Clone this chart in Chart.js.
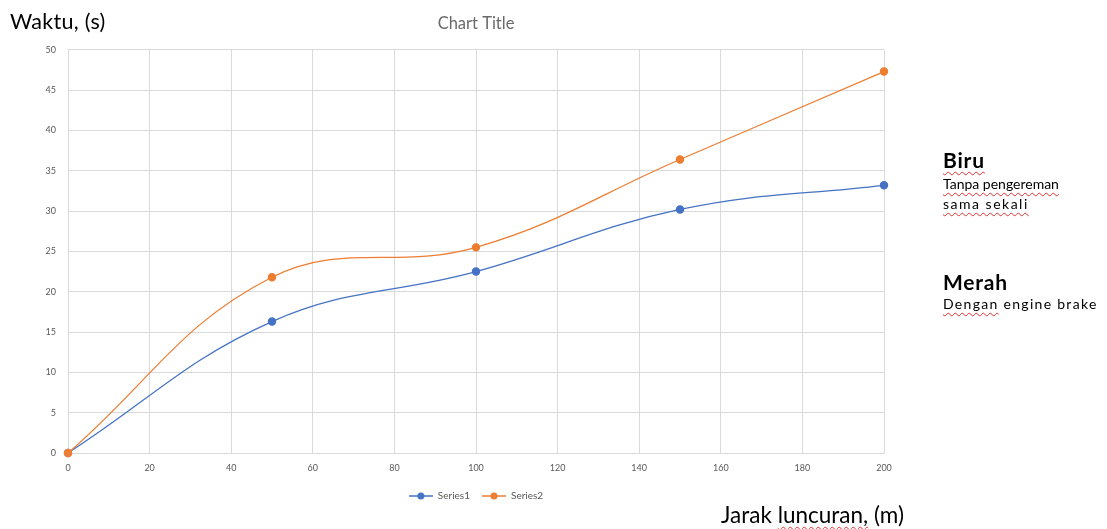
<!DOCTYPE html>
<html>
<head>
<meta charset="utf-8">
<script src="https://cdn.jsdelivr.net/npm/chart.js@4/dist/chart.umd.min.js"></script>
<style>
  body { margin: 0; background: #fff; font-family: Lato, "Open Sans", sans-serif; }
  #wrap { position: absolute; left: 0; top: 0; width: 1107px; height: 529px; }
  .txt { position: absolute; white-space: nowrap; color: #000; line-height: 1; }
  .salah { text-decoration: underline wavy #e03030; text-decoration-thickness: 1px; text-underline-offset: 3px; }
</style>
</head>
<body>
<div id="wrap"><canvas id="grafik"></canvas></div>

<div class="txt" style="left:10px; top:11px; font-size:21.5px; letter-spacing:0.3px;">Waktu, (s)</div>
<div class="txt" style="left:721px; top:504px; font-size:22.5px;">Jarak <span class="salah">luncuran,</span> (m)</div>

<div class="txt" style="left:943px; top:149px; font-size:21px; font-weight:bold; letter-spacing:0.8px;"><span class="salah">Biru</span></div>
<div class="txt" style="left:943px; top:177px; font-size:14px;"><span class="salah">Tanpa pengereman</span></div>
<div class="txt" style="left:943px; top:197px; font-size:14px; letter-spacing:1.5px;"><span class="salah">sama sekali</span></div>
<div class="txt" style="left:943px; top:271px; font-size:21px; font-weight:bold; letter-spacing:0.8px;">Merah</div>
<div class="txt" style="left:943px; top:297px; font-size:14px; letter-spacing:1.3px;"><span class="salah">Dengan</span> engine brake</div>

<script>
// data
const jarak = [0, 50, 100, 150, 200];
const series1 = [0, 16.3, 22.5, 30.2, 33.2];   // biru
const series2 = [0, 21.8, 25.5, 36.4, 47.3];   // oranye
const namaSeri = ['Series1', 'Series2'];
const warna = ['#4472C4', '#ED7D31'];

const abu = '#595959';
const garis = '#d9d9d9';

// simbol legenda ala excel: garis dengan titik di tengah
function simbolLegenda(c) {
  const cv = document.createElement('canvas');
  cv.width = 24; cv.height = 10;
  const g = cv.getContext('2d');
  g.strokeStyle = c; g.lineWidth = 1.5;
  g.beginPath(); g.moveTo(0, 5); g.lineTo(24, 5); g.stroke();
  g.fillStyle = c;
  g.beginPath(); g.arc(12, 5, 3.5, 0, Math.PI * 2); g.fill();
  return cv;
}

function buatSeri(nilai) {
  return jarak.map((x, i) => ({ x: x, y: nilai[i] }));
}

const dataGrafik = {
  datasets: [
    {
      label: namaSeri[0],
      data: buatSeri(series1),
      borderColor: warna[0],
      backgroundColor: warna[0],
      borderWidth: 1.25,
      pointRadius: 3.6,
      pointHoverRadius: 3.6,
      tension: 0.4,
      clip: false,
      order: 1
    },
    {
      label: namaSeri[1],
      data: buatSeri(series2),
      borderColor: warna[1],
      backgroundColor: warna[1],
      borderWidth: 1.25,
      pointRadius: 3.6,
      pointHoverRadius: 3.6,
      tension: 0.4,
      clip: false,
      order: 0 // oranye di atas biru
    }
  ]
};

const fonteTick = { family: 'Lato, "Open Sans", sans-serif', size: 9 };

const opsi = {
  responsive: true,
  maintainAspectRatio: false,
  animation: false,
  layout: { padding: { left: 0, right: 223, top: 0, bottom: 18 } },
  scales: {
    x: {
      type: 'linear',
      min: 0,
      max: 200,
      ticks: { stepSize: 20, color: abu, font: fonteTick, padding: 10 },
      grid: { color: garis, drawTicks: false },
      border: { color: garis },
      afterFit: function (s) { s.height = 26; }
    },
    y: {
      min: 0,
      max: 50,
      ticks: { stepSize: 5, color: abu, font: fonteTick, padding: 12 },
      grid: { color: garis, drawTicks: false },
      border: { color: garis },
      afterFit: function (s) { s.width = 68; }
    }
  },
  plugins: {
    title: {
      display: true,
      text: 'Chart Title',
      color: '#6a6a6a',
      fullSize: false,
      font: { family: 'Lato, "Open Sans", sans-serif', size: 16.5, weight: 'normal' },
      padding: { top: 14, bottom: 16 }
    },
    legend: {
      position: 'bottom',
      fullSize: false,
      labels: {
        color: abu,
        font: { family: 'Lato, "Open Sans", sans-serif', size: 10 },
        usePointStyle: true,
        pointStyleWidth: 24,
        padding: 12,
        generateLabels: function (chart) {
          const lbl = Chart.defaults.plugins.legend.labels.generateLabels(chart);
          lbl.sort((a, b) => a.datasetIndex - b.datasetIndex);
          lbl.forEach(l => { l.pointStyle = simbolLegenda(warna[l.datasetIndex]); });
          return lbl;
        }
      }
    },
    tooltip: { enabled: false }
  }
};

new Chart(document.getElementById('grafik'), { type: 'line', data: dataGrafik, options: opsi });
</script>
</body>
</html>
